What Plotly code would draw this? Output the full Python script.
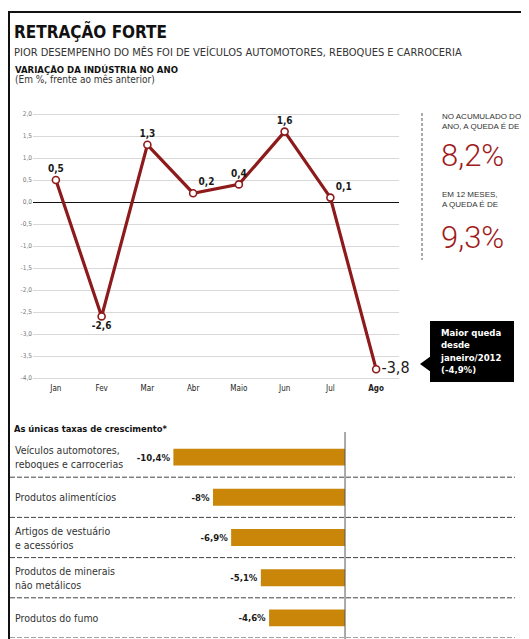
import plotly.graph_objects as go

# page body has an 8px margin: figure covers reference pixels 8..529 x 8..639
OFF = 8
W, H = 529 - OFF, 639 - OFF

# ---------------- data ----------------
months = ["Jan", "Fev", "Mar", "Abr", "Maio", "Jun", "Jul", "Ago"]
month_ticktext = ["Jan", "Fev", "Mar", "Abr", "Maio", "Jun", "Jul", "<b>Ago</b>"]
variation = [0.5, -2.6, 1.3, 0.2, 0.4, 1.6, 0.1, -3.8]
variation_labels = ["<b>0,5</b>", "<b>-2,6</b>", "<b>1,3</b>", "<b>0,2</b>",
                    "<b>0,4</b>", "<b>1,6</b>", "<b>0,1</b>", "-3,8"]
ytick_vals = [2.0, 1.5, 1.0, 0.5, 0.0, -0.5, -1.0, -1.5, -2.0, -2.5, -3.0, -3.5, -4.0]
ytick_text = ["2,0", "1,5", "1,0", "0,5", "0,0", "-0,5", "-1,0", "-1,5",
              "-2,0", "-2,5", "-3,0", "-3,5", "-4,0"]

sectors = ["Veículos automotores,<br>reboques e carrocerias",
           "Produtos alimentícios",
           "Artigos de vestuário<br>e acessórios",
           "Produtos de minerais<br>não metálicos",
           "Produtos do fumo"]
growth = [-10.4, -8.0, -6.9, -5.1, -4.6]
growth_labels = ["-10,4%", "-8%", "-6,9%", "-5,1%", "-4,6%"]

# ---------------- style ----------------
NARROW = "DejaVu Sans Condensed, Liberation Sans Narrow, sans-serif"
SANS = "Liberation Sans, Arial, DejaVu Sans, sans-serif"
BIGFONT = "Roboto, Liberation Sans, sans-serif"
RED = "#8E1B1B"
BIG_RED = "#A11A1A"
GOLD = "#C98608"


def px(x):
    return (x - OFF) / W


def py(y):
    return 1 - (y - OFF) / H


fig = go.Figure()

# line chart
fig.add_trace(go.Scatter(
    x=months, y=variation,
    mode="lines+markers+text",
    line=dict(color=RED, width=3.2),
    marker=dict(size=7, color="white", line=dict(color=RED, width=1.6)),
    text=variation_labels,
    textposition=["top center", "bottom center", "top center", "top right",
                  "top center", "top center", "top right", "middle right"],
    textfont=dict(family=NARROW, size=[10, 10, 10, 10, 10, 10, 10, 16], color="#1a1a1a"),
    cliponaxis=False,
    xaxis="x", yaxis="y",
    showlegend=False,
))

# bar chart
fig.add_trace(go.Bar(
    x=growth, y=sectors, orientation="h",
    marker=dict(color=GOLD, line=dict(width=0)),
    width=0.42,
    text=["<b>%s</b>" % t for t in growth_labels],
    textposition="outside",
    textfont=dict(family=NARROW, size=9.5, color="#1a1a1a"),
    cliponaxis=False,
    xaxis="x2", yaxis="y2",
    showlegend=False,
))

y_top, y_bot = 109.6, 382.4
fig.update_layout(
    width=W, height=H,
    margin=dict(l=0, r=0, t=0, b=0),
    paper_bgcolor="white", plot_bgcolor="white",
    xaxis=dict(
        domain=[px(33), px(399)],
        type="category", categoryorder="array", categoryarray=months,
        range=[-0.5, 7.5],
        tickvals=months, ticktext=month_ticktext,
        tickfont=dict(family=NARROW, size=8, color="#222"),
        showgrid=False, zeroline=False, showline=False, ticks="",
        anchor="y",
    ),
    yaxis=dict(
        domain=[py(y_bot), py(y_top)],
        range=[-4.1, 2.1],
        tickvals=ytick_vals, ticktext=ytick_text,
        tickfont=dict(family=NARROW, size=6.5, color="#777"),
        showgrid=True, gridcolor="#d9d9d9", gridwidth=1,
        zeroline=True, zerolinecolor="#111", zerolinewidth=1.2,
        showline=False, ticks="",
        anchor="x",
    ),
    xaxis2=dict(
        domain=[px(10), px(515)],
        range=[-20.3, 10.3],
        visible=False, anchor="y2",
    ),
    yaxis2=dict(
        domain=[py(638), py(437)],
        type="category", categoryorder="array", categoryarray=sectors,
        range=[4.5, -0.5],
        visible=False, anchor="x2",
    ),
)

shapes = []
# frame
shapes.append(dict(type="line", xref="paper", yref="paper",
                   x0=px(9), x1=1.0, y0=py(12), y1=py(12),
                   line=dict(color="#111", width=2)))
shapes.append(dict(type="line", xref="paper", yref="paper",
                   x0=px(9), x1=px(9), y0=py(11), y1=0,
                   line=dict(color="#111", width=2)))
# dashed divider right panel
shapes.append(dict(type="line", xref="paper", yref="paper",
                   x0=px(422), x1=px(422), y0=py(113), y1=py(260),
                   line=dict(color="#555", width=1, dash="3px,2px")))
# callout box + pointer
shapes.append(dict(type="rect", xref="paper", yref="paper",
                   x0=px(430), x1=px(514), y0=py(382), y1=py(321),
                   fillcolor="#000", line=dict(width=0)))
shapes.append(dict(type="path", xref="paper", yref="paper",
                   path="M %f,%f L %f,%f L %f,%f Z" % (px(431), py(356), px(420), py(364), px(431), py(372)),
                   fillcolor="#000", line=dict(width=0)))
# bar separators
for i in range(len(sectors)):
    shapes.append(dict(type="line", xref="paper", yref="y2",
                       x0=px(10), x1=px(515), y0=i + 0.5, y1=i + 0.5,
                       line=dict(color="#444", width=1, dash="5px,2px")))
# bar zero line
shapes.append(dict(type="line", xref="x2", yref="paper",
                   x0=0, x1=0, y0=py(432), y1=0,
                   line=dict(color="#555", width=1)))
fig.update_layout(shapes=shapes)

ann = []


def txt(text, x, y, size, family=NARROW, color="#111", xanchor="left", yanchor="middle",
        align="left", weight=None):
    f = dict(family=family, size=size, color=color)
    if weight is not None:
        f["weight"] = weight
    ann.append(dict(text=text, x=px(x), y=py(y), xref="paper", yref="paper",
                    xanchor=xanchor, yanchor=yanchor, align=align, showarrow=False,
                    font=f))


txt("<b>RETRAÇÃO FORTE</b>", 12, 31, 17)
txt("PIOR DESEMPENHO DO MÊS FOI DE VEÍCULOS AUTOMOTORES, REBOQUES E CARROCERIA", 12, 52, 11, color="#333")
txt("<b>VARIAÇÃO DA INDÚSTRIA NO ANO</b>", 13, 69, 9.5)
txt("(Em %, frente ao mês anterior)", 13, 80, 10, color="#333")

# right panel
txt("NO ACUMULADO DO<br>ANO, A QUEDA É DE", 440, 122, 8, family=SANS, color="#333")
txt("8,2%", 439, 155, 31, family=BIGFONT, color=BIG_RED, weight=300)
txt("EM 12 MESES,<br>A QUEDA É DE", 440, 199, 8, family=SANS, color="#333")
txt("9,3%", 439, 237, 31, family=BIGFONT, color=BIG_RED, weight=300)

# callout text
txt("<b>Maior queda<br>desde<br>janeiro/2012<br>(-4,9%)</b>", 438, 351, 9.5, color="white")

# bar section
txt("<b>As únicas taxas de crescimento*</b>", 12, 428, 9.3)
for s in sectors:
    ann.append(dict(text=s, x=px(13), y=s, xref="paper", yref="y2",
                    xanchor="left", yanchor="middle", align="left", showarrow=False,
                    font=dict(family=NARROW, size=10.5, color="#333")))

fig.update_layout(annotations=ann)

fig.write_html("out.html")
